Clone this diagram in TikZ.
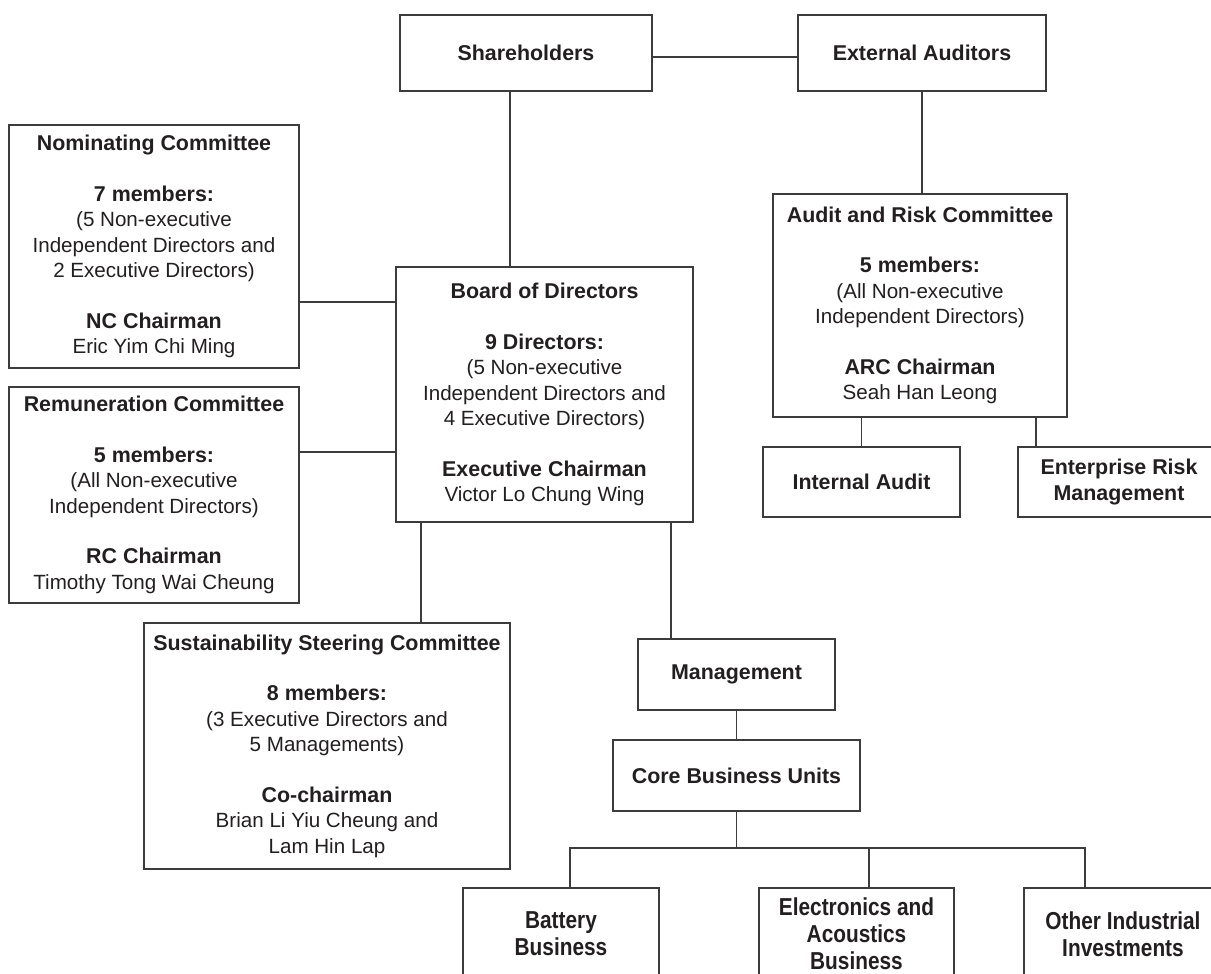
\documentclass[tikz,border=0pt]{standalone}
\usepackage{fontspec}
\setmainfont{Liberation Sans}
\newfontfamily\condfont[FakeStretch=0.85]{Liberation Sans}
\usetikzlibrary{calc}
\definecolor{ink}{HTML}{231F20}
\definecolor{linec}{HTML}{3C3C3C}
\newcommand{\hb}[1]{{\bfseries\fontsize{21.4}{25.5}\selectfont #1}}
\begin{document}
\begin{tikzpicture}[x=1pt,y=-1pt,
  box/.style={draw=linec, line width=1.3pt, rectangle, inner sep=0pt, align=center, text=ink,
    font=\fontsize{20.6}{25.5}\selectfont},
  bbox/.style={box, font=\condfont\bfseries\fontsize{24.5}{27}\selectfont},
  conn/.style={draw=linec, line width=1.3pt}]
\clip (0,0) rectangle (1211,974);
\useasboundingbox (0,0) rectangle (1211,974);
\fill[white] (0,0) rectangle (1211,974);

\node[box, minimum width=252pt, minimum height=76pt] (sh) at (526,53) {\hb{Shareholders}};
\node[box, minimum width=248pt, minimum height=76pt] (ea) at (922,53) {\hb{External Auditors}};

\node[box, minimum width=290pt, minimum height=243pt] (nc) at (154,246.5) {\hb{Nominating Committee}\\[25pt]
\hb{7 members:}\\(5 Non-executive\\Independent Directors and\\2 Executive Directors)\\[25pt]
\hb{NC Chairman}\\Eric Yim Chi Ming};

\node[box, minimum width=297pt, minimum height=255pt] (bd) at (544.5,394.5) {\hb{Board of Directors}\\[25pt]
\hb{9 Directors:}\\(5 Non-executive\\Independent Directors and\\4 Executive Directors)\\[25pt]
\hb{Executive Chairman}\\Victor Lo Chung Wing};

\node[box, minimum width=290pt, minimum height=216pt] (rc) at (154,495) {\hb{Remuneration Committee}\\[25pt]
\hb{5 members:}\\(All Non-executive\\Independent Directors)\\[25pt]
\hb{RC Chairman}\\Timothy Tong Wai Cheung};

\node[box, minimum width=294pt, minimum height=223pt] (arc) at (920,305.5) {\hb{Audit and Risk Committee}\\[25pt]
\hb{5 members:}\\(All Non-executive\\Independent Directors)\\[25pt]
\hb{ARC Chairman}\\Seah Han Leong};

\node[box, minimum width=197pt, minimum height=70pt] (ia) at (861.5,482) {\hb{Internal Audit}};
\node[box, minimum width=202pt, minimum height=70pt] (erm) at (1119,482) {\hb{Enterprise Risk}\\\hb{Management}};

\node[box, minimum width=366pt, minimum height=246pt] (ssc) at (327,746) {\hb{Sustainability Steering Committee}\\[25pt]
\hb{8 members:}\\(3 Executive Directors and\\5 Managements)\\[25pt]
\hb{Co-chairman}\\Brian Li Yiu Cheung and\\Lam Hin Lap};

\node[box, minimum width=197pt, minimum height=71pt] (mg) at (736.5,674.5) {\hb{Management}};
\node[box, minimum width=247pt, minimum height=71pt] (cbu) at (736.5,775.5) {\hb{Core Business Units}};

\node[bbox, minimum width=196pt, minimum height=92pt] (bat) at (561,934) {Battery\\Business};
\node[bbox, minimum width=195pt, minimum height=92pt] (elec) at (856.5,934) {Electronics and\\Acoustics\\Business};
\node[bbox, minimum width=198pt, minimum height=92pt] (oth) at (1123,934) {Other Industrial\\Investments};

% helper coordinates
\coordinate (xsh) at (510,0);
\coordinate (yse) at (0,57);
\coordinate (ync) at (0,302);
\coordinate (yrc) at (0,452);
\coordinate (xssc) at (421,0);
\coordinate (xmg) at (671,0);
\coordinate (xerm) at (1036,0);
\coordinate (ybus) at (0,848);
\coordinate (xbat) at (570,0);
\coordinate (xel) at (869,0);
\coordinate (xoth) at (1085,0);

\draw[conn] (sh.east |- yse) -- (ea.west |- yse);
\draw[conn] (sh.south -| xsh) -- (bd.north -| xsh);
\draw[conn] (ea.south) -- (ea.south |- arc.north);
\draw[conn] (nc.east |- ync) -- (bd.west |- ync);
\draw[conn] (rc.east |- yrc) -- (bd.west |- yrc);
\draw[conn] (arc.south -| ia.north) -- (ia.north);
\draw[conn] (arc.south -| xerm) -- (erm.north -| xerm);
\draw[conn] (bd.south -| xssc) -- (ssc.north -| xssc);
\draw[conn] (bd.south -| xmg) -- (mg.north -| xmg);
\draw[conn] (mg.south) -- (cbu.north);
\draw[conn] (cbu.south) -- (cbu.south |- ybus);
\draw[conn] (bat.north -| xbat) -- (xbat |- ybus) -- (xoth |- ybus) -- (oth.north -| xoth);
\draw[conn] (xel |- ybus) -- (elec.north -| xel);
\end{tikzpicture}
\end{document}
